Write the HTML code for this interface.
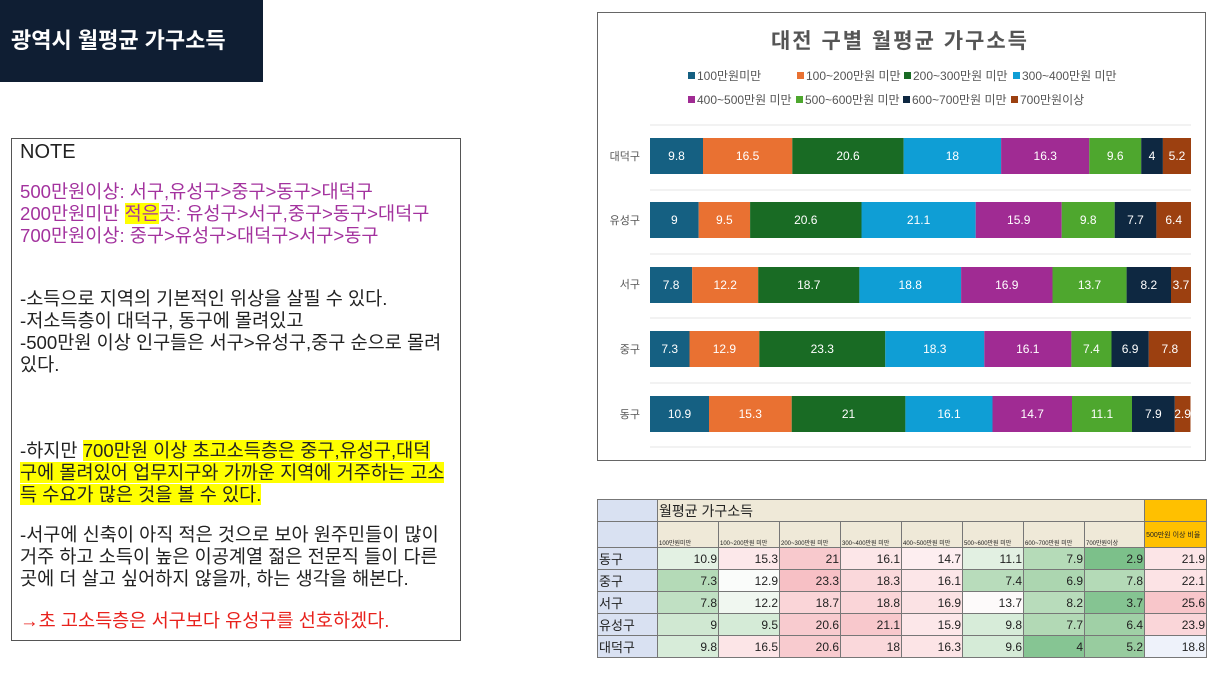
<!DOCTYPE html>
<html><head><meta charset="utf-8"><style>
body{margin:0;width:1216px;height:684px;background:#fff;position:relative;overflow:hidden;font-family:"Liberation Sans","Noto Sans CJK KR",sans-serif}
.t{position:absolute;white-space:nowrap;font-size:18.6px;line-height:22px;color:#222}
.p{color:#a3329e}
.hl{background:#ffff00}
table{border-collapse:collapse;position:absolute;left:597px;top:499px;width:609px;table-layout:fixed;font-family:"Liberation Sans","Noto Sans CJK KR",sans-serif}
td{border:1px solid #777;font-size:12px;text-align:right;padding:0 1px;height:21px;color:#222;overflow:hidden}
td.l{text-align:left;background:#d9e1f2;font-size:13px}
td.h{background:#efe9d8;font-size:6px;text-align:left;vertical-align:bottom;white-space:nowrap}
</style></head><body>
<div style="position:absolute;left:0;top:0;width:263px;height:82px;background:#0f1e33"></div>
<div class="t" style="left:11px;top:30px;color:#fff;font-weight:bold;font-size:22px">광역시 월평균 가구소득</div>
<div style="position:absolute;left:11px;top:138px;width:448px;height:501px;border:1px solid #555"></div>
<div class="t" style="left:20px;top:141px;font-size:20px">NOTE</div>
<div class="t p" style="left:20px;top:181px">500만원이상: 서구,유성구&gt;중구&gt;동구&gt;대덕구</div>
<div class="t p" style="left:20px;top:203px">200만원미만 <span class="hl">적은</span>곳: 유성구&gt;서구,중구&gt;동구&gt;대덕구</div>
<div class="t p" style="left:20px;top:225px">700만원이상: 중구&gt;유성구&gt;대덕구&gt;서구&gt;동구</div>
<div class="t" style="left:20px;top:288px">-소득으로 지역의 기본적인 위상을 살필 수 있다.</div>
<div class="t" style="left:20px;top:310px">-저소득층이 대덕구, 동구에 몰려있고</div>
<div class="t" style="left:20px;top:332px">-500만원 이상 인구들은 서구&gt;유성구,중구 순으로 몰려</div>
<div class="t" style="left:20px;top:354px">있다.</div>
<div class="t" style="left:20px;top:440px">-하지만 <span class="hl">700만원 이상 초고소득층은 중구,유성구,대덕</span></div>
<div class="t" style="left:20px;top:462px"><span class="hl">구에 몰려있어 업무지구와 가까운 지역에 거주하는 고소</span></div>
<div class="t" style="left:20px;top:484px"><span class="hl">득 수요가 많은 것을 볼 수 있다.</span></div>
<div class="t" style="left:20px;top:524px">-서구에 신축이 아직 적은 것으로 보아 원주민들이 많이</div>
<div class="t" style="left:20px;top:546px">거주 하고 소득이 높은 이공계열 젊은 전문직 들이 다른</div>
<div class="t" style="left:20px;top:568px">곳에 더 살고 싶어하지 않을까, 하는 생각을 해본다.</div>
<div class="t" style="left:20px;top:610px;color:#e8211c">→초 고소득층은 서구보다 유성구를 선호하겠다.</div>

<svg style="position:absolute;left:0;top:0" width="1216" height="684" font-family="Liberation Sans, Noto Sans CJK KR, sans-serif">
<rect x="597.5" y="12.5" width="608" height="448" fill="#fff" stroke="#666"/>
<text x="900" y="48" text-anchor="middle" font-size="21" font-weight="bold" fill="#555" letter-spacing="2">대전 구별 월평균 가구소득</text>
<g font-size="12" fill="#555">
<rect x="688" y="72" width="7" height="7" fill="#156082"/><text x="697" y="80">100만원미만</text>
<rect x="797" y="72" width="7" height="7" fill="#e97132"/><text x="806" y="80">100~200만원 미만</text>
<rect x="904" y="72" width="7" height="7" fill="#196b24"/><text x="913" y="80">200~300만원 미만</text>
<rect x="1013" y="72" width="7" height="7" fill="#0f9ed5"/><text x="1022" y="80">300~400만원 미만</text>
<rect x="688" y="96" width="7" height="7" fill="#a02b93"/><text x="697" y="104">400~500만원 미만</text>
<rect x="796" y="96" width="7" height="7" fill="#4ea72e"/><text x="805" y="104">500~600만원 미만</text>
<rect x="903" y="96" width="7" height="7" fill="#0e2841"/><text x="912" y="104">600~700만원 미만</text>
<rect x="1011" y="96" width="7" height="7" fill="#9c4010"/><text x="1020" y="104">700만원이상</text>
</g>
<g stroke="#e4e4e4"><line x1="650" y1="125" x2="1191" y2="125"/><line x1="650" y1="190" x2="1191" y2="190"/><line x1="650" y1="254" x2="1191" y2="254"/><line x1="650" y1="318" x2="1191" y2="318"/><line x1="650" y1="383" x2="1191" y2="383"/><line x1="650" y1="447" x2="1191" y2="447"/></g>
<g font-size="11" fill="#555" text-anchor="end"><text x="640" y="160">대덕구</text><text x="640" y="224">유성구</text><text x="640" y="288">서구</text><text x="640" y="353">중구</text><text x="640" y="418">동구</text></g>
<g>
<rect x="650" y="138" width="53" height="36" fill="#156082"/><rect x="703" y="138" width="89.3" height="36" fill="#e97132"/><rect x="792.3" y="138" width="111.4" height="36" fill="#196b24"/><rect x="903.7" y="138" width="97.4" height="36" fill="#0f9ed5"/><rect x="1001.1" y="138" width="88.2" height="36" fill="#a02b93"/><rect x="1089.3" y="138" width="51.9" height="36" fill="#4ea72e"/><rect x="1141.2" y="138" width="21.7" height="36" fill="#0e2841"/><rect x="1162.9" y="138" width="28.1" height="36" fill="#9c4010"/>
<rect x="650" y="202" width="48.7" height="36" fill="#156082"/><rect x="698.7" y="202" width="51.4" height="36" fill="#e97132"/><rect x="750.1" y="202" width="111.4" height="36" fill="#196b24"/><rect x="861.5" y="202" width="114.2" height="36" fill="#0f9ed5"/><rect x="975.7" y="202" width="86" height="36" fill="#a02b93"/><rect x="1061.7" y="202" width="53" height="36" fill="#4ea72e"/><rect x="1114.7" y="202" width="41.7" height="36" fill="#0e2841"/><rect x="1156.4" y="202" width="34.6" height="36" fill="#9c4010"/>
<rect x="650" y="267" width="42.2" height="36" fill="#156082"/><rect x="692.2" y="267" width="66" height="36" fill="#e97132"/><rect x="758.2" y="267" width="101.2" height="36" fill="#196b24"/><rect x="859.4" y="267" width="101.7" height="36" fill="#0f9ed5"/><rect x="961.1" y="267" width="91.4" height="36" fill="#a02b93"/><rect x="1052.5" y="267" width="74.1" height="36" fill="#4ea72e"/><rect x="1126.6" y="267" width="44.4" height="36" fill="#0e2841"/><rect x="1171" y="267" width="20" height="36" fill="#9c4010"/>
<rect x="650" y="331" width="39.5" height="36" fill="#156082"/><rect x="689.5" y="331" width="69.8" height="36" fill="#e97132"/><rect x="759.3" y="331" width="126" height="36" fill="#196b24"/><rect x="885.3" y="331" width="99" height="36" fill="#0f9ed5"/><rect x="984.3" y="331" width="87.1" height="36" fill="#a02b93"/><rect x="1071.4" y="331" width="40.1" height="36" fill="#4ea72e"/><rect x="1111.5" y="331" width="37.3" height="36" fill="#0e2841"/><rect x="1148.8" y="331" width="42.2" height="36" fill="#9c4010"/>
<rect x="650" y="396" width="59" height="36" fill="#156082"/><rect x="709" y="396" width="82.7" height="36" fill="#e97132"/><rect x="791.7" y="396" width="113.7" height="36" fill="#196b24"/><rect x="905.4" y="396" width="87.1" height="36" fill="#0f9ed5"/><rect x="992.5" y="396" width="79.5" height="36" fill="#a02b93"/><rect x="1072" y="396" width="60" height="36" fill="#4ea72e"/><rect x="1132" y="396" width="42.8" height="36" fill="#0e2841"/><rect x="1174.8" y="396" width="15.7" height="36" fill="#9c4010"/>
</g>
<g font-size="12" fill="#fff" text-anchor="middle">
<text x="676.5" y="160">9.8</text><text x="747.6" y="160">16.5</text><text x="848" y="160">20.6</text><text x="952.4" y="160">18</text><text x="1045.2" y="160">16.3</text><text x="1115.2" y="160">9.6</text><text x="1152" y="160">4</text><text x="1177" y="160">5.2</text>
<text x="674.3" y="224">9</text><text x="724.4" y="224">9.5</text><text x="805.8" y="224">20.6</text><text x="918.6" y="224">21.1</text><text x="1018.7" y="224">15.9</text><text x="1088.2" y="224">9.8</text><text x="1135.5" y="224">7.7</text><text x="1173.7" y="224">6.4</text>
<text x="671.1" y="289">7.8</text><text x="725.2" y="289">12.2</text><text x="808.8" y="289">18.7</text><text x="910.2" y="289">18.8</text><text x="1006.8" y="289">16.9</text><text x="1089.5" y="289">13.7</text><text x="1148.8" y="289">8.2</text><text x="1181" y="289">3.7</text>
<text x="669.7" y="353">7.3</text><text x="724.4" y="353">12.9</text><text x="822.3" y="353">23.3</text><text x="934.8" y="353">18.3</text><text x="1027.8" y="353">16.1</text><text x="1091.4" y="353">7.4</text><text x="1130.1" y="353">6.9</text><text x="1169.9" y="353">7.8</text>
<text x="679.5" y="418">10.9</text><text x="750.3" y="418">15.3</text><text x="848.5" y="418">21</text><text x="949" y="418">16.1</text><text x="1032.2" y="418">14.7</text><text x="1102" y="418">11.1</text><text x="1153.4" y="418">7.9</text><text x="1182.6" y="418">2.9</text>
</g>
</svg>

<table>
<colgroup><col style="width:60px"><col style="width:61px"><col style="width:61px"><col style="width:61px"><col style="width:61px"><col style="width:61px"><col style="width:61px"><col style="width:61px"><col style="width:60px"><col style="width:62px"></colgroup>
<tr><td class="l" style="height:21px"></td><td colspan="8" style="background:#efe9d8;text-align:left;font-size:14px">월평균 가구소득</td><td style="background:#ffc000"></td></tr>
<tr><td class="l" style="height:25px"></td>
<td class="h">100만원미만</td>
<td class="h">100~200만원 미만</td>
<td class="h">200~300만원 미만</td>
<td class="h">300~400만원 미만</td>
<td class="h">400~500만원 미만</td>
<td class="h">500~600만원 미만</td>
<td class="h">600~700만원 미만</td>
<td class="h">700만원이상</td>
<td style="background:#ffc000;font-size:7px;text-align:left">500만원 이상 비율</td></tr>
<tr><td class="l">동구</td><td style="background:#e3f1e3">10.9</td><td style="background:#fce8ea">15.3</td><td style="background:#f8c9cd">21</td><td style="background:#fce6e8">16.1</td><td style="background:#fdeef0">14.7</td><td style="background:#e2f0e2">11.1</td><td style="background:#b5dbb8">7.9</td><td style="background:#7cc08a">2.9</td><td style="background:#fce5e7">21.9</td></tr>
<tr><td class="l">중구</td><td style="background:#b4dab7">7.3</td><td style="background:#fafcfa">12.9</td><td style="background:#f7c0c5">23.3</td><td style="background:#fad8db">18.3</td><td style="background:#fce6e8">16.1</td><td style="background:#b8dcbb">7.4</td><td style="background:#acd6b0">6.9</td><td style="background:#b4dab7">7.8</td><td style="background:#fce3e5">22.1</td></tr>
<tr><td class="l">서구</td><td style="background:#c0e0c3">7.8</td><td style="background:#f0f7f0">12.2</td><td style="background:#fad5d8">18.7</td><td style="background:#fad5d8">18.8</td><td style="background:#fbe2e4">16.9</td><td style="background:#fdfafa">13.7</td><td style="background:#b8dcbb">8.2</td><td style="background:#85c492">3.7</td><td style="background:#f8c6ca">25.6</td></tr>
<tr><td class="l">유성구</td><td style="background:#d0e8d2">9</td><td style="background:#d5ebd7">9.5</td><td style="background:#f8cbcf">20.6</td><td style="background:#f8c8cc">21.1</td><td style="background:#fce7e9">15.9</td><td style="background:#d7ecd9">9.8</td><td style="background:#b2d9b5">7.7</td><td style="background:#a0d0a6">6.4</td><td style="background:#fad6d9">23.9</td></tr>
<tr><td class="l">대덕구</td><td style="background:#d7ecd9">9.8</td><td style="background:#fce5e7">16.5</td><td style="background:#f8cbcf">20.6</td><td style="background:#fad8db">18</td><td style="background:#fce4e6">16.3</td><td style="background:#d5ebd7">9.6</td><td style="background:#86c593">4</td><td style="background:#98cc9f">5.2</td><td style="background:#eef2fa">18.8</td></tr>
</table>
</body></html>
